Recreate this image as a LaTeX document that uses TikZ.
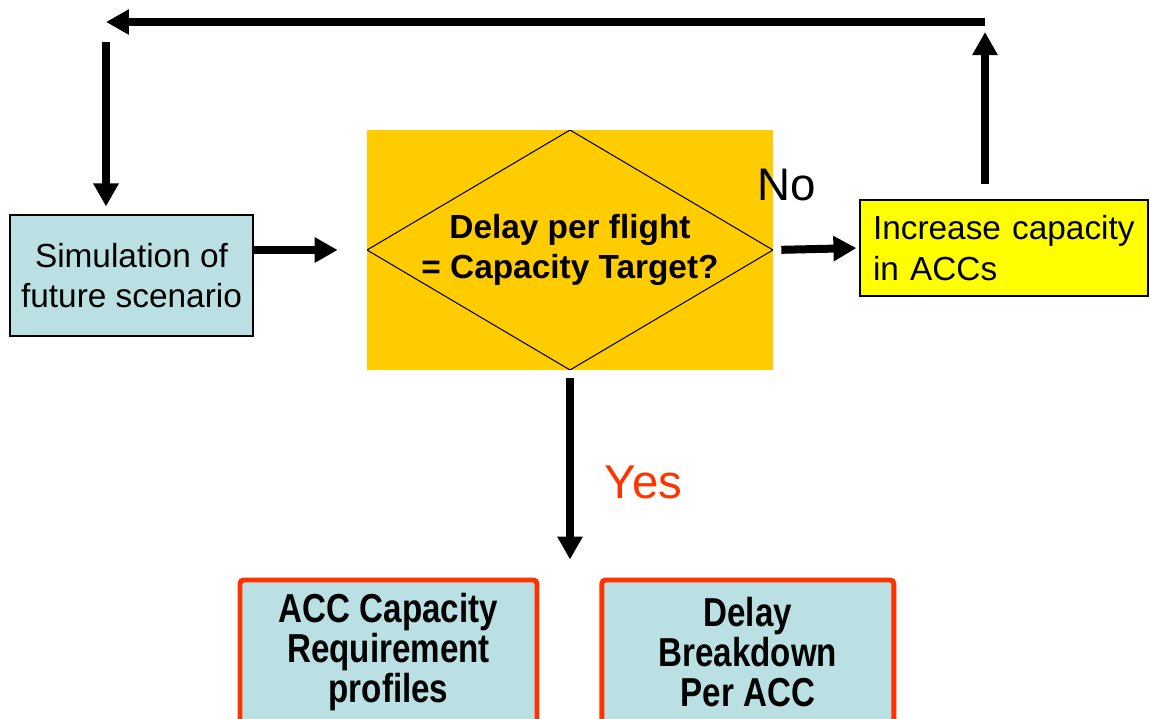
\documentclass[tikz,border=0pt]{standalone}
\usepackage{fontspec}
\setmainfont{Liberation Sans}
\newfontfamily\narrowsans[FakeStretch=0.82]{Liberation Sans}
\usetikzlibrary{arrows.meta}
\usetikzlibrary{positioning}
\definecolor{simblue}{RGB}{187,224,227}
\definecolor{decorange}{RGB}{255,204,0}
\definecolor{incyellow}{RGB}{255,255,0}
\definecolor{outred}{RGB}{255,51,0}
\tikzset{
    simbox/.style={
      rectangle,
           draw=black, line width=0.6pt,
           fill=simblue,
           inner sep=2pt,
           align=center,
           minimum width=4.86cm,
           minimum height=2.42cm,
           font=\fontsize{19pt}{23pt}\selectfont,
           },
}
\tikzset{
    decbox/.style={
      rectangle,
           fill=decorange,
           inner sep=2pt,
           align=center,
           minimum width=8.12cm,
           minimum height=4.8cm,
           font=\bfseries\fontsize{19pt}{23pt}\selectfont,
           path picture={
             \draw[line width=0.6pt] (path picture bounding box.west) -- (path picture bounding box.north)
               -- (path picture bounding box.east) -- (path picture bounding box.south) -- cycle;},
           },
}
\tikzset{
    incbox/.style={
      rectangle,
           draw=black, line width=0.7pt,
           fill=incyellow,
           inner xsep=0.26cm,
           align=left,
           text width=5.24cm,
           minimum height=1.92cm,
           font=\fontsize{19pt}{23pt}\selectfont,
           },
}
\tikzset{
    outbox/.style={
      rectangle, rounded corners=2pt,
           draw=outred, line width=2.8pt,
           fill=simblue,
           inner sep=2pt,
           align=center,
           minimum width=5.94cm,
           minimum height=2.88cm,
           font=\narrowsans\bfseries\fontsize{23pt}{23pt}\selectfont,
           },
}
\tikzset{
    flow/.style={-{Triangle[length=0.46cm,width=0.48cm]}, line width=0.16cm},
}

\begin{document}
\begin{tikzpicture}[x=0.02cm,y=-0.02cm]

\clip (0,0) rectangle (1150,718);

\node[simbox](sim) at (131.5,275.5){Simulation of\\future scenario};
\node[decbox](dec) at (570,250){Delay per flight\\= Capacity Target?};
\node[incbox](inc) at (1004,248){Increase capacity\\in ACCs};

\node[outbox](req) at (388.5,652){ACC Capacity\\Requirement\\profiles};
\node[outbox,minimum width=5.84cm,right = 1.2cm of req](brk){Delay\\Breakdown\\Per ACC};

\coordinate (tl) at (106,22);
\coordinate (tr) at (985,22);

\node[font=\fontsize{26pt}{26pt}\selectfont,inner sep=0pt](no) at ([shift={(0.26cm,1.3cm)}]dec.east){No};

\draw[flow,shorten >=0.58cm] (sim.east |- dec.west) -- (dec.west);
\draw[flow,shorten <=0.16cm,shorten >=0.06cm] (dec.east) -- (inc.west);
\draw[flow,shorten <=0.3cm,shorten >=0.2cm] (tr |- inc.north) -- (tr);
\draw[flow] (tr) -- (tl);
\draw[flow,shorten >=0.16cm] ([yshift=-0.4cm]tl) -- (tl |- sim.north);

\draw[flow,shorten <=0.16cm,shorten >=0.36cm] (dec.south) -- (dec.south |- req.north)
  node[pos=0.54,right=0.62cm,inner sep=0pt,text=outred,font=\fontsize{27pt}{27pt}\selectfont](yes){Yes};

\end{tikzpicture}
\end{document}
